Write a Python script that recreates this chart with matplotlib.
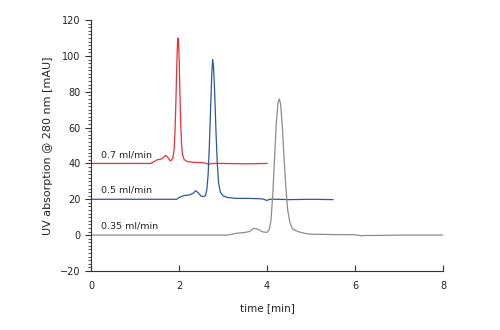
import matplotlib
matplotlib.use("Agg")
import matplotlib.pyplot as plt
from matplotlib.ticker import MultipleLocator

# 0.7 ml/min trace (red)
t_07 = [0, 1.35, 1.42, 1.5, 1.6, 1.66, 1.7, 1.75, 1.8, 1.83, 1.86, 1.89, 1.91,
        1.93, 1.95, 1.965, 1.977, 1.99, 2.005, 2.02, 2.04, 2.06, 2.08, 2.11,
        2.15, 2.2, 2.35, 2.5, 2.6, 2.68, 2.72, 2.8, 3.0, 3.5, 4.0]
uv_07 = [40, 40, 40.8, 42, 42.5, 43.8, 44.5, 43.2, 41.5, 41.8, 43, 48, 58,
         75, 95, 107, 110, 107, 97, 80, 62, 50, 45, 42.5,
         41.5, 41, 40.6, 40.5, 40.2, 39.5, 39.8, 40, 40, 39.8, 40]

# 0.5 ml/min trace (blue)
t_05 = [0, 1.95, 2.0, 2.1, 2.25, 2.33, 2.38, 2.44, 2.5, 2.55, 2.6, 2.63, 2.66,
        2.69, 2.72, 2.745, 2.765, 2.785, 2.81, 2.84, 2.87, 2.9, 2.94, 3.0, 3.1,
        3.3, 3.6, 3.9, 3.97, 4.0, 4.05, 4.2, 4.5, 5.0, 5.5]
uv_05 = [20, 20, 21, 22, 22.5, 23.5, 24.8, 23.5, 21.8, 21.5, 22, 25, 33,
         50, 72, 90, 98, 94, 80, 58, 40, 29, 24, 22, 21,
         20.5, 20.5, 20.2, 19.6, 19.3, 20, 20, 19.8, 20, 19.8]

# 0.35 ml/min trace (gray)
t_035 = [0, 3.1, 3.3, 3.5, 3.6, 3.7, 3.8, 3.9, 4.0, 4.05, 4.09, 4.13, 4.17,
         4.21, 4.25, 4.28, 4.31, 4.35, 4.39, 4.43, 4.47, 4.52, 4.58, 4.7,
         4.85, 5.0, 5.5, 6.0, 6.15, 6.25, 6.5, 7.0, 8.0]
uv_035 = [0, 0, 1, 1.5, 2, 3.8, 3.2, 1.8, 1.5, 3, 8, 22, 42,
          62, 74, 76, 73, 60, 42, 26, 14, 7, 3.5, 2,
          1, 0.5, 0.3, 0.2, -0.4, -0.2, -0.2, 0, 0]

labels = ["0.7 ml/min", "0.5 ml/min", "0.35 ml/min"]
label_y = [44.6, 25.2, 5.0]

plt.rcParams['font.family'] = ['DejaVu Sans']

fig = plt.figure(figsize=(5, 3.3), dpi=100)
ax = fig.add_axes([0.182, 0.179, 0.704, 0.760])

ax.plot(t_07, uv_07, color="#e8303a", lw=0.9)
ax.plot(t_05, uv_05, color="#2f55a0", lw=0.9)
ax.plot(t_035, uv_035, color="#8c8c8c", lw=0.9)

for lab, yy in zip(labels, label_y):
    ax.text(0.22, yy, lab, fontsize=6.8, color="#222222", va="center")

ax.set_xlim(0, 8)
ax.set_ylim(-20, 120)
ax.xaxis.set_major_locator(MultipleLocator(2))
ax.yaxis.set_major_locator(MultipleLocator(20))
ax.yaxis.set_minor_locator(MultipleLocator(2))

for s in ["top", "right"]:
    ax.spines[s].set_visible(False)
for s in ["left", "bottom"]:
    ax.spines[s].set_color("#333333")
    ax.spines[s].set_linewidth(0.8)

ax.tick_params(axis="x", direction="in", length=4, width=0.8, color="#333333",
               labelsize=7, pad=7, labelcolor="#222222")
ax.tick_params(axis="y", which="major", direction="out", length=4, width=0.8,
               color="#333333", labelsize=7, labelcolor="#222222")
ax.tick_params(axis="y", which="minor", direction="out", length=2, width=0.6,
               color="#333333")

ax.set_xlabel("time [min]", fontsize=7.5, color="#222222", labelpad=9)
ax.set_ylabel("UV absorption @ 280 nm [mAU]", fontsize=8, color="#222222", labelpad=5)

fig.savefig("out.png", dpi=100)
